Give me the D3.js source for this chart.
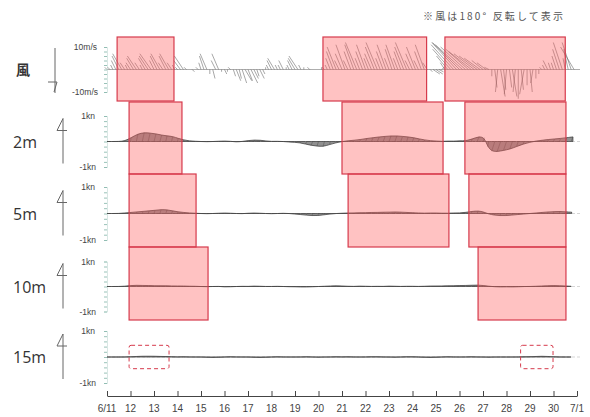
<!DOCTYPE html>
<html>
<head>
<meta charset="utf-8">
<script src="https://cdn.jsdelivr.net/npm/d3@7"></script>
<style>
  body { margin: 0; background: #fff; }
  svg { display: block; }
</style>
</head>
<body>
<div id="chart"></div>
<script>
// date axis: 6/11 .. 7/1 (day of June)
const tickDays = d3.range(11, 32);
const tickLabels = ["6/11","12","13","14","15","16","17","18","19","20","21","22","23","24","25","26","27","28","29","30","7/1"];

// wind (m/s), 3-hourly from 6/11 00:00, shown reversed by 180deg
const windU = [
  -1,-1,-1,-2,-3,-4,-2,-1,  -2,-3,-4,-2,-1,-3,-4,-5,  -2,-3,-4,-2,-3,-4,-2,-1,  -1,-3,-4,-1,0,1,0,-1,
  -1,-2,-3,0,1,-2,-3,0,     1,0,-1,1,2,1,2,3,         2,3,2,1,2,1,0,-1,         -2,-3,-1,-1,-2,0,-1,-2,
  -3,-4,-1,0,0,-1,0,0,      0,0,-1,-1,-2,-3,-4,-2,    -3,-4,-2,-3,-4,-5,-2,-3,  -4,-2,-3,-4,-5,-2,-3,-4,
  -2,-3,-4,-2,-3,-4,-5,-2,  -3,-4,-2,-3,-4,-2,1,3,    3,2,1,-2,-5,-8,-10,-11,   -12,-12,-11,-10,-10,-9,-8,-7,
  -5,-4,-2,0,1,-1,2,1,      -1,1,2,-1,0,1,-2,0,       1,-1,0,0,-1,-1,-2,-1,     -1,-2,-3,-4,-1,-2,-4,-6
];
const windV = [
  1,1,2,4,6,7,3,2,          3,5,6,3,2,5,6,7,          4,6,7,3,6,7,3,2,          1,4,6,1,0,-1,0,1,
  3,6,7,-2,-4,4,7,-1,       -2,-1,1,-3,-5,-4,-6,-5,   -5,-6,-4,-3,-4,-2,1,2,    4,5,2,2,4,1,2,4,
  5,6,2,1,0,1,0,0,          0,1,1,2,5,8,10,4,         7,11,4,8,11,12,5,8,       11,5,7,10,12,5,8,11,
  5,9,11,5,8,10,12,4,       7,10,4,8,11,3,-1,-2,      -2,-1,1,3,6,9,11,12,      12,11,10,9,8,7,6,5,
  4,3,1,-3,-8,-10,-12,-9,   -11,-8,-12,-10,-13,-9,-11,-7, -10,-6,-4,-2,1,2,4,3, 3,6,9,12,5,9,12,10
];

// currents (kn), 6-hourly from 6/11 00:00
const cur2mU = [
  0,0,0,0.01,  0.03,0.06,0.08,0.08,  0.08,0.07,0.05,0.04,  0.03,0.02,0.01,0,  0,0,0.01,0,
  0.01,0,-0.01,0,  0.02,0.03,0.03,0.01,  0,0,0,-0.01,  -0.02,-0.03,-0.05,-0.06,  -0.06,-0.05,-0.03,-0.01,
  0,0.02,0.03,0.05,  0.06,0.07,0.08,0.08,  0.08,0.08,0.07,0.06,  0.05,0.04,0.02,0.01,  0.01,0,0.01,0,
  0.01,0.01,0.04,0.08,  0.06,-0.05,-0.12,-0.14,  -0.12,-0.1,-0.07,-0.04,  -0.01,0.01,0.02,0.04,  0.04,0.05,0.06,0.07
];
const cur2mV = [
  0,0,0,0.02,  0.15,0.3,0.35,0.33,  0.3,0.25,0.22,0.2,  0.12,0.06,0.02,0.01,  0,-0.01,0,0.01,
  0.02,0.01,-0.02,0,  0.04,0.06,0.05,0.02,  0,0.01,0,-0.02,  -0.03,-0.05,-0.1,-0.15,  -0.18,-0.2,-0.12,-0.05,
  0,0.03,0.05,0.08,  0.12,0.15,0.18,0.2,  0.22,0.22,0.2,0.18,  0.15,0.1,0.06,0.03,  0.02,0,0.02,0.01,
  0.03,0.02,0.1,0.2,  0.15,-0.2,-0.38,-0.4,  -0.35,-0.3,-0.2,-0.1,  -0.03,0.02,0.05,0.08,  0.1,0.12,0.15,0.18
];
const cur5mU = [
  0,0,0,0.01,  0.02,0.02,0.03,0.04,  0.04,0.05,0.05,0.04,  0.02,0.01,0.01,0,  0,0,0,0,
  0.01,0,0,0,  0,0.01,0,0,  0,0,0,0,  -0.01,-0.01,-0.02,-0.03,  -0.03,-0.02,-0.01,0,
  0,0.01,0.01,0.01,  0.01,0.01,0.02,0.02,  0.02,0.02,0.02,0.01,  0.01,0.01,0,0.01,  0.01,0,0,0.01,
  0.01,0.01,0.03,0.04,  0.02,-0.01,-0.02,-0.03,  -0.03,-0.02,-0.02,-0.01,  0,0.01,0.01,0.02,  0.02,0.03,0.02,0.02
];
const cur5mV = [
  0,0,0,0.02,  0.04,0.06,0.08,0.1,  0.12,0.15,0.14,0.1,  0.06,0.04,0.02,0.01,  0,-0.01,0,0.01,
  0.02,0.01,0,-0.01,  0.01,0.02,0.01,0,  -0.01,0,0.01,0,  -0.02,-0.04,-0.06,-0.08,  -0.08,-0.05,-0.02,0,
  0.01,0.02,0.02,0.03,  0.03,0.04,0.04,0.05,  0.05,0.06,0.05,0.04,  0.03,0.02,0.01,0.02,  0.02,0.01,0.01,0.02,
  0.02,0.04,0.08,0.1,  0.06,-0.02,-0.06,-0.08,  -0.08,-0.06,-0.04,-0.02,  0,0.02,0.04,0.06,  0.07,0.08,0.06,0.05
];
const cur10mU = [
  0,0,0,0,  0.01,0.01,0.01,0.01,  0.01,0.01,0,0,  0,0,0,0,  0,0,0,0,
  0,0,0,0,  0,0.01,0,0,  0,0,0,0,  0,0,-0.01,0,  0,0,0,0,
  0,0,0,0.01,  0,0,0,0,  0,0,0,0,  0,0,0,0,  0,0,0,0.01,
  0.01,0.01,0.01,0.02,  0.01,0,0,-0.01,  0,0,0,0,  0,0,0,0,  0.01,0.01,0.01,0
];
const cur10mV = [
  0,0,0,0.01,  0.04,0.05,0.04,0.04,  0.03,0.03,0.03,0.02,  0.02,0.02,0.01,0.01,  0,-0.01,0,0.01,
  -0.02,-0.01,0,0.01,  0,0.02,0.01,0,  0,0.01,0,-0.01,  -0.01,-0.02,-0.02,-0.01,  0,0.01,0.02,0.03,
  0.02,0.01,0,0.02,  0.01,0,0.01,0,  0.02,0.01,0,0.01,  0.01,0,0.01,0.02,  0.02,0.02,0.03,0.03,
  0.04,0.04,0.05,0.06,  0.04,0.01,-0.01,-0.02,  -0.01,-0.02,-0.01,0,  0,0.01,0.02,0.03,  0.04,0.03,0.02,0.01
];
const cur15mU = [
  0,0,0,0,  0,0.01,0.01,0.01,  0.01,0.01,0,0,  0,0,0,0,  0,0,0,0,
  0,0,0,0,  0,0,0,0,  0,0,0,0,  0,0,0,0,  0,0,0,0,
  0,0,0,0,  0,0,0,0,  0,0,0,0,  0,0,0,0,  0,0,0,0,
  0,0,0,0,  0,0,0,0,  0,0,0,0,  0,0.01,0.01,0,  0,0,0,0
];
const cur15mV = [
  0,0,0,0,  0.01,0.02,0.03,0.03,  0.03,0.02,0.02,0.01,  0,0.01,0,0,  0,-0.01,-0.02,-0.01,
  0,0.01,0,0,  0,-0.01,-0.02,-0.01,  0,0.01,0,0,  0,0,0.01,0,  -0.01,0,0,0.01,
  0,0.01,0,0,  0,0.01,0.01,0,  0,-0.01,0,0.01,  0.01,0,-0.01,-0.02,  -0.01,0,0.01,0,
  0,0,0.01,0,  0,-0.01,0,0,  0,0,0,0.01,  0.01,0.02,0.03,0.02,  0.01,0,0,0
];

// highlighted periods (day of June)
const windBoxes = [[11.43, 13.85], [20.19, 24.6], [25.38, 30.5]];
const m2Boxes = [[11.94, 14.19], [21.0, 25.3], [26.23, 30.53]];
const m5Boxes = [[11.94, 14.79], [21.26, 25.55], [26.4, 30.53]];
const m10Boxes = [[11.94, 15.3], [26.79, 30.53]];
const m15Dashed = [[11.94, 13.64], [28.6, 29.98]];

const width = 590, height = 417;
const svg = d3.select("#chart").append("svg")
  .attr("width", width).attr("height", height);

const x = d3.scaleLinear().domain([11, 31]).range([107, 577]);

// panels: zero line, half span in px, band for highlight boxes
const panels = [
  { name: "風", zero: 69.5, span: 22.5, max: 10, top: 37, bottom: 101, u: windU, v: windV, step: 1/8,
    labels: ["10m/s", "-10m/s"], tickStep: 2, boxes: windBoxes, wind: true },
  { name: "2m", zero: 141.5, span: 25.5, max: 1, top: 102, bottom: 174, u: cur2mU, v: cur2mV, step: 1/4,
    labels: ["1kn", "-1kn"], tickStep: 0.2, boxes: m2Boxes },
  { name: "5m", zero: 213.5, span: 26.5, max: 1, top: 174, bottom: 247, u: cur5mU, v: cur5mV, step: 1/4,
    labels: ["1kn", "-1kn"], tickStep: 0.2, boxes: m5Boxes },
  { name: "10m", zero: 286.5, span: 25, max: 1, top: 247, bottom: 320, u: cur10mU, v: cur10mV, step: 1/4,
    labels: ["1kn", "-1kn"], tickStep: 0.2, boxes: m10Boxes },
  { name: "15m", zero: 357, span: 26, max: 1, top: 320, bottom: 393, u: cur15mU, v: cur15mV, step: 1/4,
    labels: ["1kn", "-1kn"], tickStep: 0.2, boxes: [], dashed: m15Dashed }
];

panels.forEach(p => {
  const y = d3.scaleLinear().domain([-p.max, p.max]).range([p.zero + p.span, p.zero - p.span]);
  const k = p.span / p.max; // px per unit, same for u so angles stay true
  const g = svg.append("g");

  // zero line
  g.append("line")
    .attr("x1", x(11)).attr("x2", x(31) + 3)
    .attr("y1", y(0)).attr("y2", y(0))
    .attr("stroke", p.wind ? "#999" : "#bbb").attr("stroke-width", p.wind ? 0.8 : 0.6)
    .attr("stroke-dasharray", p.wind ? null : "3,2");

  // left axis with minor ticks
  const ax = g.append("g")
    .attr("transform", `translate(${x(11)},0)`)
    .call(d3.axisLeft(y)
      .tickValues(d3.range(-p.max, p.max + p.tickStep / 2, p.tickStep))
      .tickSize(3).tickFormat(() => ""));
  ax.select(".domain").attr("stroke", "#c9dcd8").attr("stroke-width", 0.7);
  ax.selectAll(".tick line").attr("stroke", "#7fb3a6").attr("stroke-width", 0.8);

  g.append("text").attr("x", p.wind ? 97 : 95).attr("y", y(p.max) + 3)
    .attr("text-anchor", "end").attr("font-size", 8.5).attr("fill", "#444")
    .attr("font-family", "Liberation Sans, Arial, sans-serif")
    .text(p.labels[0]);
  g.append("text").attr("x", p.wind ? 98 : 96).attr("y", y(-p.max) + 3)
    .attr("text-anchor", "end").attr("font-size", 8.5).attr("fill", "#444")
    .attr("font-family", "Liberation Sans, Arial, sans-serif")
    .text(p.labels[1]);

  const pts = p.v.map((v, i) => ({ t: 11 + i * p.step, u: p.u[i], v: v }));

  if (!p.wind) {
    // filled envelope of the stick tips
    g.append("path")
      .datum(pts)
      .attr("d", d3.area()
        .x(d => x(d.t) + d.u * k)
        .y0(y(0))
        .y1(d => y(d.v))
        .curve(d3.curveBasis))
      .attr("fill", "#6b6b6b").attr("fill-opacity", 0.75)
      .attr("stroke", "#444").attr("stroke-width", 0.8);
  }

  // stick vectors
  g.selectAll("line.stick")
    .data(pts)
    .enter().append("line")
    .attr("class", "stick")
    .attr("x1", d => x(d.t)).attr("y1", y(0))
    .attr("x2", d => x(d.t) + d.u * k).attr("y2", d => y(d.v))
    .attr("stroke", p.wind ? "#5a5a5a" : "#444")
    .attr("stroke-width", p.wind ? 0.75 : 0.5)
    .attr("stroke-opacity", p.wind ? 0.7 : 0.8);

  // highlight boxes
  g.selectAll("rect.box")
    .data(p.boxes)
    .enter().append("rect")
    .attr("class", "box")
    .attr("x", d => x(d[0])).attr("width", d => x(d[1]) - x(d[0]))
    .attr("y", p.top).attr("height", p.bottom - p.top)
    .attr("fill", "#ff5a5a").attr("fill-opacity", 0.37)
    .attr("stroke", "#d63a4c").attr("stroke-width", 1.2);

  if (p.dashed) {
    g.selectAll("rect.dash")
      .data(p.dashed)
      .enter().append("rect")
      .attr("class", "dash")
      .attr("x", d => x(d[0])).attr("width", d => x(d[1]) - x(d[0]))
      .attr("y", y(0.45)).attr("height", y(-0.45) - y(0.45))
      .attr("rx", 2)
      .attr("fill", "none")
      .attr("stroke", "#d63a4c").attr("stroke-width", 1)
      .attr("stroke-dasharray", "4,3");
  }

  // panel name
  g.append("text")
    .attr("x", p.wind ? 16 : 13).attr("y", p.zero + (p.wind ? 5 : 6))
    .attr("font-size", p.wind ? 14 : 16)
    .attr("font-weight", p.wind ? "bold" : "normal")
    .attr("fill", "#333")
    .attr("font-family", p.wind ? "Noto Sans CJK JP, sans-serif" : "Open Sans, Noto Sans, sans-serif")
    .text(p.name);

  // north arrow
  const ar = g.append("path").attr("fill", "none").attr("stroke", "#666").attr("stroke-width", 1);
  if (p.wind) {
    ar.attr("d", "M55,48 L55,93 M48,82 L57,82 L54,92");
  } else {
    const top = p.zero - 23, bot = p.zero + 22;
    ar.attr("d", `M63,${top} L63,${bot} M63,${top} L57,${top + 12} L67,${top + 12}`);
  }
});

// bottom date axis
const xAxis = svg.append("g")
  .attr("transform", "translate(0,396)")
  .call(d3.axisTop(x).tickValues(tickDays).tickSize(5).tickSizeOuter(0)
    .tickFormat(() => ""));
xAxis.select(".domain").attr("stroke", "#444");
xAxis.selectAll(".tick line").attr("stroke", "#444");

svg.append("g").selectAll("text")
  .data(tickDays)
  .enter().append("text")
  .attr("x", d => x(d)).attr("y", 412)
  .attr("text-anchor", "middle")
  .attr("font-size", 10).attr("fill", "#444")
  .attr("font-family", "Liberation Sans, Arial, sans-serif")
  .text((d, i) => tickLabels[i]);

// note
svg.append("text")
  .attr("x", 423).attr("y", 20)
  .attr("font-size", 10).attr("fill", "#555")
  .attr("font-family", "Noto Sans CJK JP, sans-serif")
  .attr("textLength", 140).attr("lengthAdjust", "spacing")
  .text("※風は180° 反転して表示");
</script>
</body>
</html>
